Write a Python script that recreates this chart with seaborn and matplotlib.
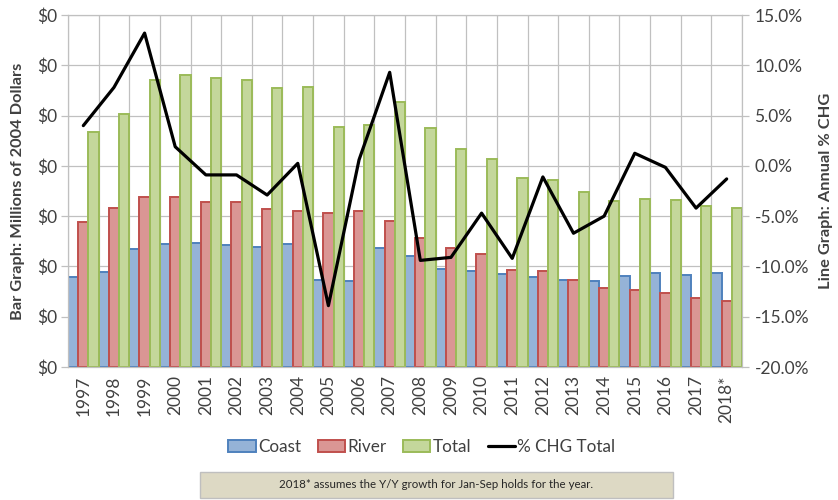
import numpy as np
import pandas as pd
import matplotlib
matplotlib.use("Agg")
import matplotlib.pyplot as plt
import seaborn as sns
from matplotlib.patches import Patch, Rectangle
from matplotlib.lines import Line2D

# ---------------- data ----------------
years = ["1997", "1998", "1999", "2000", "2001", "2002", "2003", "2004", "2005",
         "2006", "2007", "2008", "2009", "2010", "2011", "2012", "2013", "2014",
         "2015", "2016", "2017", "2018*"]
coast = [0.179, 0.189, 0.235, 0.245, 0.247, 0.243, 0.239, 0.245, 0.173, 0.171, 0.237,
         0.221, 0.195, 0.191, 0.185, 0.179, 0.173, 0.171, 0.181, 0.187, 0.183, 0.187]
river = [0.288, 0.316, 0.338, 0.338, 0.328, 0.328, 0.314, 0.310, 0.306, 0.310, 0.290,
         0.256, 0.237, 0.225, 0.193, 0.191, 0.173, 0.157, 0.153, 0.147, 0.137, 0.131]
total = [0.467, 0.503, 0.571, 0.581, 0.575, 0.571, 0.555, 0.557, 0.477, 0.481, 0.527,
         0.475, 0.433, 0.414, 0.376, 0.372, 0.348, 0.330, 0.334, 0.332, 0.320, 0.316]
pct_chg = [4.0, 7.8, 13.2, 1.9, -0.9, -0.9, -2.9, 0.25, -13.9, 0.6, 9.3, -9.4, -9.1,
           -4.7, -9.2, -1.1, -6.7, -5.0, 1.25, -0.15, -4.2, -1.3]
series_names = ["Coast", "River", "Total"]
line_name = "% CHG Total"
left_ticks = [0.0, 0.1, 0.2, 0.3, 0.4, 0.5, 0.6, 0.7]
left_tick_labels = ["$0"] * 8
right_ticks = [-20, -15, -10, -5, 0, 5, 10, 15]
left_label = "Bar Graph: Millions of 2004 Dollars"
right_label = "Line Graph: Annual % CHG"
footnote = "2018* assumes the Y/Y growth for Jan-Sep holds for the year."

df = pd.DataFrame({
    "year": years * 3,
    "value": coast + river + total,
    "series": [s for s in series_names for _ in years],
})

# ---------------- style ----------------
sns.set_theme(style="white")
plt.rcParams['font.family'] = ['Lato', 'DejaVu Sans']
txt = "#404040"
grid_c = "#C0C0C0"
fills = ["#95B3D7", "#DA9694", "#C4D79B"]
edges = ["#4F81BD", "#C0504D", "#9BBB59"]

fig = plt.figure(figsize=(8.38, 5.0), dpi=100)
ax = fig.add_axes([68 / 838, 1 - 367 / 500, 674 / 838, 352 / 500])

sns.barplot(data=df, x="year", y="value", hue="series", hue_order=series_names,
            palette=fills, saturation=1, width=1.0, ax=ax, legend=False,
            linewidth=1.4)
for cont, ec in zip(ax.containers, edges):
    for bar in cont:
        bar.set_edgecolor(ec)

ax.set_xlim(-0.5, len(years) - 0.5)
ax.set_ylim(0, 0.7)
ax.set_yticks(left_ticks)
ax.set_yticklabels(left_tick_labels)
ax.set_xlabel("")
ax.set_ylabel(left_label, fontsize=11.8, fontweight="bold", color=txt)
ax.yaxis.set_label_coords(-0.064, 0.5)

ax.set_xticks(np.arange(len(years)))
ax.set_xticklabels(years, rotation=90)
ax.set_xticks(np.arange(-0.5, len(years), 1.0), minor=True)
ax.tick_params(axis="x", which="major", length=0, pad=6, labelsize=12.5, colors=txt)
ax.tick_params(axis="x", which="minor", length=5, width=0.9, color=grid_c, direction="out")
ax.tick_params(axis="y", length=5, width=0.9, color=grid_c, labelsize=12.5,
               labelcolor=txt, pad=3, direction="out")
ax.set_axisbelow(True)
ax.yaxis.grid(True, color=grid_c, linewidth=0.9)
ax.xaxis.grid(True, which="minor", color=grid_c, linewidth=0.9)
ax.xaxis.grid(False, which="major")
for sp in ax.spines.values():
    sp.set_color(grid_c)
    sp.set_linewidth(0.9)

ax2 = ax.twinx()
sns.lineplot(x=np.arange(len(years)), y=pct_chg, ax=ax2, color="black",
             linewidth=2.3, legend=False)
ax2.set_ylim(-20, 15)
ax2.set_yticks(right_ticks)
ax2.set_yticklabels([f"{v:.1f}%" for v in right_ticks])
ax2.tick_params(axis="y", length=5, width=0.9, color=grid_c, labelsize=12.5,
                labelcolor=txt, pad=4, direction="out")
ax2.set_ylabel(right_label, fontsize=11.8, fontweight="bold", color=txt, rotation=90)
ax2.yaxis.set_label_coords(1.114, 0.5)
for sp in ax2.spines.values():
    sp.set_visible(False)
ax.set_xlim(-0.5, len(years) - 0.5)

handles = [Patch(facecolor=f, edgecolor=e, linewidth=1.4) for f, e in zip(fills, edges)]
handles.append(Line2D([0], [0], color="black", linewidth=2.3))
fig.legend(handles, series_names + [line_name], loc="center",
           bbox_to_anchor=(422 / 838, 1 - 447 / 500), ncol=4, frameon=False,
           fontsize=12.3, handlelength=1.6, handleheight=0.75, handletextpad=0.15,
           columnspacing=0.95, labelcolor=txt)

fig.patches.append(Rectangle((200 / 838, 1 - 498 / 500), 473 / 838, 26 / 500,
                             transform=fig.transFigure, facecolor="#DDD9C4",
                             edgecolor="#BFBFBF", linewidth=1.0))
fig.text(436.5 / 838, 1 - 485 / 500, footnote, ha="center", va="center",
         fontsize=8.3, color="#262626")

fig.savefig("out.png", dpi=100)
